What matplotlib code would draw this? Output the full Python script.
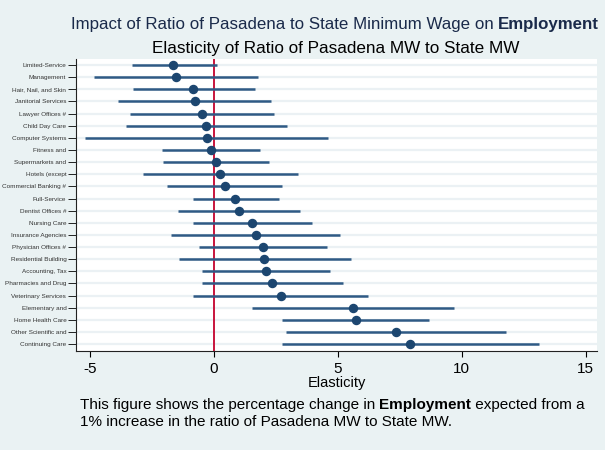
import matplotlib
matplotlib.use("Agg")
import matplotlib.pyplot as plt

categories = ["Limited-Service", "Management", "Hair, Nail, and Skin", "Janitorial Services",
              "Lawyer Offices #", "Child Day Care", "Computer Systems", "Fitness and",
              "Supermarkets and", "Hotels (except", "Commercial Banking #", "Full-Service",
              "Dentist Offices #", "Nursing Care", "Insurance Agencies", "Physician Offices #",
              "Residential Building", "Accounting, Tax", "Pharmacies and Drug", "Veterinary Services",
              "Elementary and", "Home Health Care", "Other Scientific and", "Continuing Care"]
estimate = [-1.63, -1.51, -0.82, -0.74, -0.48, -0.30, -0.26, -0.12, 0.08, 0.24, 0.46, 0.87,
            1.03, 1.55, 1.69, 2.00, 2.04, 2.11, 2.35, 2.70, 5.62, 5.73, 7.34, 7.91]
lower = [-3.28, -4.81, -3.26, -3.84, -3.37, -3.54, -5.18, -2.09, -2.03, -2.84, -1.88, -0.85,
         -1.43, -0.82, -1.71, -0.58, -1.39, -0.46, -0.46, -0.85, 1.53, 2.74, 2.91, 2.74]
upper = [0.12, 1.77, 1.66, 2.32, 2.43, 2.96, 4.63, 1.88, 2.22, 3.39, 2.77, 2.63,
         3.49, 3.95, 5.11, 4.59, 5.52, 4.70, 5.22, 6.24, 9.69, 8.70, 11.80, 13.11]
xticks = [-5, 0, 5, 10, 15]

BG = "#EAF2F3"
LINE = "#2F5A85"
DOT = "#1C4670"
RED = "#C8143C"

plt.rcParams['font.family'] = ['Liberation Sans', 'DejaVu Sans']

fig = plt.figure(figsize=(6.05, 4.5), dpi=100, facecolor=BG)
ax = fig.add_axes([76/605, 1-351/450, (597-76)/605, (351-59)/450])
ax.set_facecolor("white")

ys = list(range(len(categories)))
for y in ys:
    ax.axhline(y, color="#EBF1F4", lw=1.6, zorder=0)
ax.axvline(0, color=RED, lw=1.4, zorder=1)
ax.hlines(ys, lower, upper, color=LINE, lw=1.8, zorder=2)
ax.plot(estimate, ys, 'o', color=DOT, markersize=5.8, zorder=3)

ax.set_xlim(-5.55, 15.46)
ax.set_ylim(len(categories) - 0.43, -0.5)
ax.set_yticks(ys)
ax.set_yticklabels(categories, fontsize=4.6, color="#333333")
ax.set_xticks(xticks)
ax.set_xticklabels([str(t) for t in xticks], fontsize=11)
ax.tick_params(axis='y', length=5.5, width=0.6, pad=1.5)
ax.tick_params(axis='x', length=4, width=0.8, pad=4)
for s in ['top', 'right']:
    ax.spines[s].set_visible(False)
ax.spines['left'].set_color("#222222")
ax.spines['bottom'].set_color("#222222")
ax.spines['left'].set_linewidth(0.8)
ax.spines['bottom'].set_linewidth(0.8)
ax.set_xlabel("Elasticity", fontsize=10.5, labelpad=0)

fig.canvas.draw()
renderer = fig.canvas.get_renderer()

def rich_line(parts, x_px, y_px, size, color, ha='left'):
    texts = []
    for txt, w in parts:
        t = fig.text(0, 0, txt, fontsize=size, fontweight=w, color=color, va='baseline')
        texts.append(t)
    widths = [t.get_window_extent(renderer).width for t in texts]
    total = sum(widths)
    x = x_px if ha == 'left' else (x_px - total / 2 if ha == 'center' else x_px - total)
    for t, w in zip(texts, widths):
        t.set_position((x / 605, 1 - y_px / 450))
        x += w

rich_line([("Impact of Ratio of Pasadena to State Minimum Wage on ", 'normal'),
           ("Employment", 'bold')], 599, 29, 12.15, "#1A2A4A", ha='right')
rich_line([("Elasticity of Ratio of Pasadena MW to State MW", 'normal')], 336, 52.5, 12.3, "black", ha='center')
rich_line([("This figure shows the percentage change in ", 'normal'),
           ("Employment", 'bold'),
           (" expected from a", 'normal')], 80, 409.5, 11, "black")
rich_line([("1% increase in the ratio of Pasadena MW to State MW.", 'normal')], 80, 425.5, 11, "black")

fig.savefig("out.png", dpi=100, facecolor=BG)
